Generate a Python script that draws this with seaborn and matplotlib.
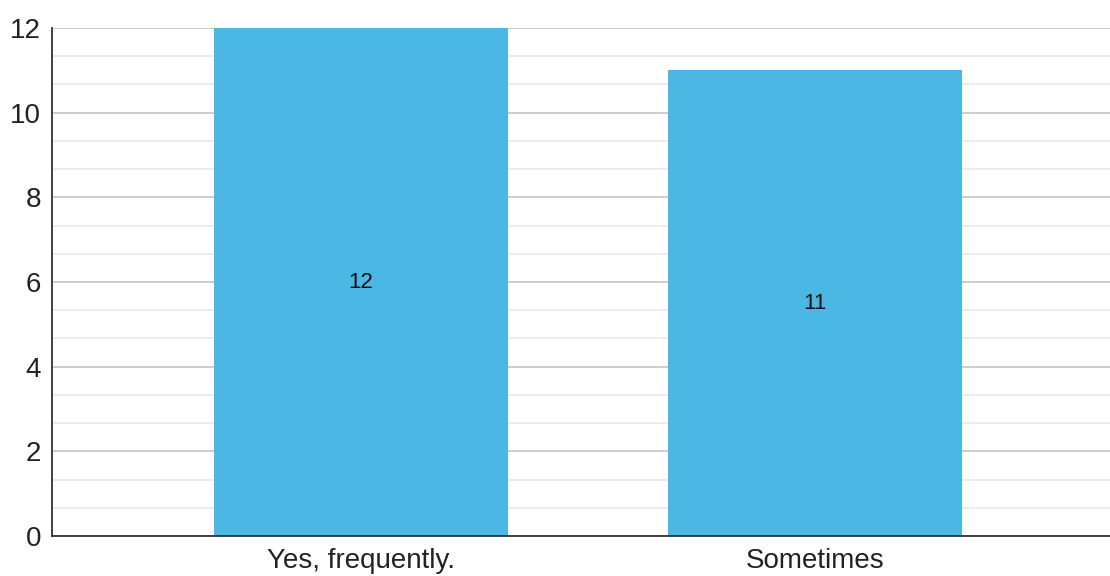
import numpy as np
import pandas as pd
import matplotlib
matplotlib.use("Agg")
import matplotlib.pyplot as plt
import seaborn as sns

categories = ["Yes, frequently.", "Sometimes"]
counts = [12, 11]
yticks = [0, 2, 4, 6, 8, 10, 12]

sns.set_style("white")
plt.rcParams['font.family'] = ['Liberation Sans', 'DejaVu Sans']

df = pd.DataFrame({"cat": categories, "count": counts})

fig = plt.figure(figsize=(11.1, 5.76), dpi=100)
ax = fig.add_axes([52/1110, 40/576, 1 - 52/1110, 508/576])

sns.barplot(data=df, x="cat", y="count", color="#4BB7E5", saturation=1,
            width=0.648, ax=ax, zorder=3, linewidth=0, edgecolor="none")

ax.set_ylim(0, 12)
ax.set_xlim(-0.681, 1.650)
ax.set_yticks(yticks)
ax.set_yticks(np.arange(0, 12.01, 2/3), minor=True)
ax.grid(axis="y", which="major", color="#c4c4c4", linewidth=1.2, zorder=0)
ax.grid(axis="y", which="minor", color="#e8e8e8", linewidth=1.2, zorder=0)
ax.grid(axis="x", visible=False)
ax.set_axisbelow(True)

for s in ["top", "right"]:
    ax.spines[s].set_visible(False)
ax.spines["left"].set_color("#333333")
ax.spines["bottom"].set_color("#333333")
ax.spines["left"].set_linewidth(1.3)
ax.spines["bottom"].set_linewidth(1.3)
ax.spines["left"].set_zorder(5)
ax.spines["bottom"].set_zorder(5)

ax.tick_params(axis="y", which="both", length=0, labelsize=20, pad=8, colors="#222222")
ax.tick_params(axis="x", length=0, labelsize=20, pad=9, colors="#222222")
ax.set_xlabel("")
ax.set_ylabel("")

for i, v in enumerate(counts):
    ax.text(i, v / 2, str(v), ha="center", va="center", fontsize=16, color="#111111", zorder=6)

fig.savefig("out.png", dpi=100)
